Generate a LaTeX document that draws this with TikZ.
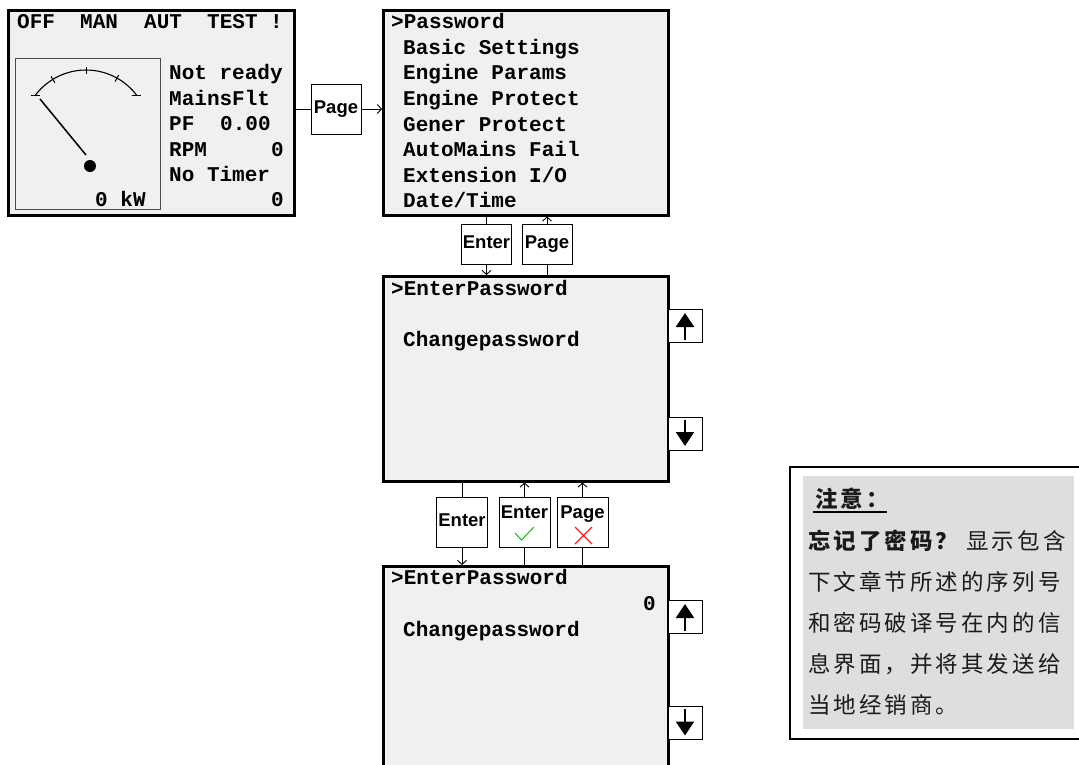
\documentclass[tikz,border=0pt]{standalone}
\usepackage{fontspec}
\setmainfont{Liberation Sans}
\setmonofont{Liberation Mono}
\newfontfamily\cjk{Noto Sans CJK SC}
\usetikzlibrary{arrows.meta}
\definecolor{scr}{HTML}{F0F0F0}
\definecolor{notegray}{HTML}{DEDEDE}
\definecolor{okgreen}{HTML}{33CC33}
\definecolor{nored}{HTML}{FF2020}
\definecolor{txt}{HTML}{1A1A1A}
\begin{document}
\begin{tikzpicture}[x=1pt,y=-1pt,
 screen/.style={draw, line width=2.5pt, fill=scr, inner sep=0, anchor=north west},
 keybox/.style={draw, line width=0.9pt, fill=white, inner sep=0, minimum width=50pt, minimum height=50pt,
   text height=13pt, text depth=4pt, font=\fontsize{18.5}{20}\selectfont\bfseries},
 arrowkey/.style={draw, line width=0.9pt, fill=white, inner sep=0, minimum width=34pt, minimum height=33pt},
 lcd/.style={anchor=base west, inner sep=0, font=\fontsize{21}{24}\selectfont\ttfamily\bfseries},
 lcdr/.style={lcd, anchor=base east},
 conn/.style={line width=0.9pt},
 tip/.style={conn, -{Straight Barb[length=4pt,width=9pt]}},
 bigarrow/.style={line width=2.3pt, -{Triangle[length=14pt,width=18pt]}},
 cn/.style={anchor=base west, inner sep=0, text=txt, font=\cjk\fontsize{22.5}{26}\selectfont\addfontfeature{LetterSpace=13.5}}
]
\useasboundingbox (0,0) rectangle (1079,764);
\clip (0,0) rectangle (1079,764);

% ---------- screen 1 ----------
\node[screen, minimum width=286pt, minimum height=205pt] (s1) at (7,9) {};
\node[draw=black!70, line width=1.2pt, fill=scr, anchor=north west, minimum width=145pt, minimum height=151pt, inner sep=0] (gauge) at (15,58) {};
\draw[line width=1.1pt] (86,133.5) ++(-142.7:63.5) arc[start angle=-142.7, end angle=-37.3, radius=63.5];
\foreach \a in {-121.5,-90,-60.8} \draw[line width=1pt] (86,133.5) ++(\a:59.5) -- ++(\a:7.5);
\draw[line width=1pt] (31,95.5) -- (40,95.5);
\draw[line width=1pt] (131.5,95.5) -- (140.5,95.5);
\draw[line width=1.5pt] (40,99) -- (86,155);
\fill (90,166) circle[radius=6];
\node[lcd] (h1) at (17,28) {OFF};
\node[lcd] (h2) at (80,28) {MAN};
\node[lcd] (h3) at (144,28) {AUT};
\node[lcd] (h4) at (207,28) {TEST};
\node[lcd] (h5) at (270,28) {!};
\node[lcd] (t1) at (169,79) {Not ready};
\node[lcd] (t2) at (169,105) {MainsFlt};
\node[lcd] (t3) at (169,130) {PF};
\node[lcd] (t3b) at (220,130) {0.00};
\node[lcd] (t4) at (169,156) {RPM};
\node[lcdr] (t4b) at (284,156) {0};
\node[lcd] (t5) at (169,181) {No Timer};
\node[lcdr] (t6) at (284,206) {0};
\node[lcd] (kw) at (95,206) {0 kW};

% ---------- screen 2 ----------
\node[screen, minimum width=285pt, minimum height=205pt] (s2) at (382,9) {};
\node[lcd] (m1) at (391,28) {>Password};
\node[lcd] (m2) at (403,54) {Basic Settings};
\node[lcd] (m3) at (403,79) {Engine Params};
\node[lcd] (m4) at (403,105) {Engine Protect};
\node[lcd] (m5) at (403,131) {Gener Protect};
\node[lcd] (m6) at (403,156) {AutoMains Fail};
\node[lcd] (m7) at (403,182) {Extension I/O};
\node[lcd] (m8) at (403,207) {Date/Time};

% ---------- screen 3 ----------
\node[screen, minimum width=285pt, minimum height=205pt] (s3) at (382,275) {};
\node[lcd] (a1) at (391,295) {>EnterPassword};
\node[lcd] (a2) at (403,346) {Changepassword};

% ---------- screen 4 ----------
\node[screen, minimum width=285pt, minimum height=220pt] (s4) at (382,565) {};
\node[lcd] (b1) at (391,584) {>EnterPassword};
\node[lcdr] (b0) at (656,610) {0};
\node[lcd] (b2) at (403,636) {Changepassword};

% ---------- arrow keys ----------
\node[arrowkey] (up3) at (685,325.5) {};
\node[arrowkey] (dn3) at (685,433.5) {};
\node[arrowkey] (up4) at (685,616.5) {};
\node[arrowkey] (dn4) at (685,723) {};
\foreach \k in {up3,up4} \draw[bigarrow] ([yshift=-14pt]\k.center) -- ([yshift=12.5pt]\k.center);
\foreach \k in {dn3,dn4} \draw[bigarrow] ([yshift=14pt]\k.center) -- ([yshift=-12.5pt]\k.center);

% ---------- keys ----------
\node[keybox] (p1) at (336,109) {Page};
\node[keybox, minimum height=40pt] (e1) at (486.5,244) {Enter};
\node[keybox, minimum height=40pt] (p2) at (547,244) {Page};
\node[keybox, minimum width=51pt] (e2) at (462,522) {Enter};
\node[keybox, minimum width=51pt] (e3) at (524.5,522) {};
\node[keybox, minimum width=51pt] (p3) at (582.5,522) {};
\node[keybox, draw=none, fill=none] (e3t) at (524.5,514) {Enter};
\node[keybox, draw=none, fill=none] (p3t) at (582.5,514) {Page};
\draw[okgreen, line width=1.3pt] (515,533) -- (521.5,540) -- (534,527);
\draw[nored, line width=1.3pt] (575,527) -- (592,544) (592,527) -- (575,544);

% ---------- connectors ----------
\draw[conn] (s1.east |- p1) -- (p1.west);
\draw[tip] (p1.east) -- (p1.east -| s2.west);
\draw[conn] (s2.south -| e1) -- (e1.north);
\draw[tip] (e1.south) -- (e1.south |- s3.north);
\draw[conn] (s3.north -| p2) -- (p2.south);
\draw[tip] (p2.north) -- (p2.north |- s2.south);
\draw[conn] (s3.south -| e2) -- (e2.north);
\draw[tip] (e2.south) -- (e2.south |- s4.north);
\draw[conn] (s4.north -| e3) -- (e3.south);
\draw[tip] (e3.north) -- (e3.north |- s3.south);
\draw[conn] (s4.north -| p3) -- (p3.south);
\draw[tip] (p3.north) -- (p3.north |- s3.south);

% ---------- note ----------
\node[draw, line width=1.5pt, fill=white, anchor=north west, minimum width=300pt, minimum height=272pt, inner sep=0] (note) at (789,466) {};
\node[fill=notegray, anchor=north west, minimum width=271pt, minimum height=253pt, inner sep=0] (notein) at (803,476) {};
\node[cn] (n0) at (815,507) {\bfseries 注意：};
\draw[line width=1.2pt] (813,512) -- (887,512);
\node[cn] (n1) at (808,549) {{\bfseries 忘记了密码？}\hspace{8pt}显示包含};
\node[cn] (n2) at (808,590) {下文章节所述的序列号};
\node[cn] (n3) at (808,631) {和密码破译号在内的信};
\node[cn] (n4) at (808,672) {息界面，并将其发送给};
\node[cn] (n5) at (808,713) {当地经销商。};
\end{tikzpicture}
\end{document}
